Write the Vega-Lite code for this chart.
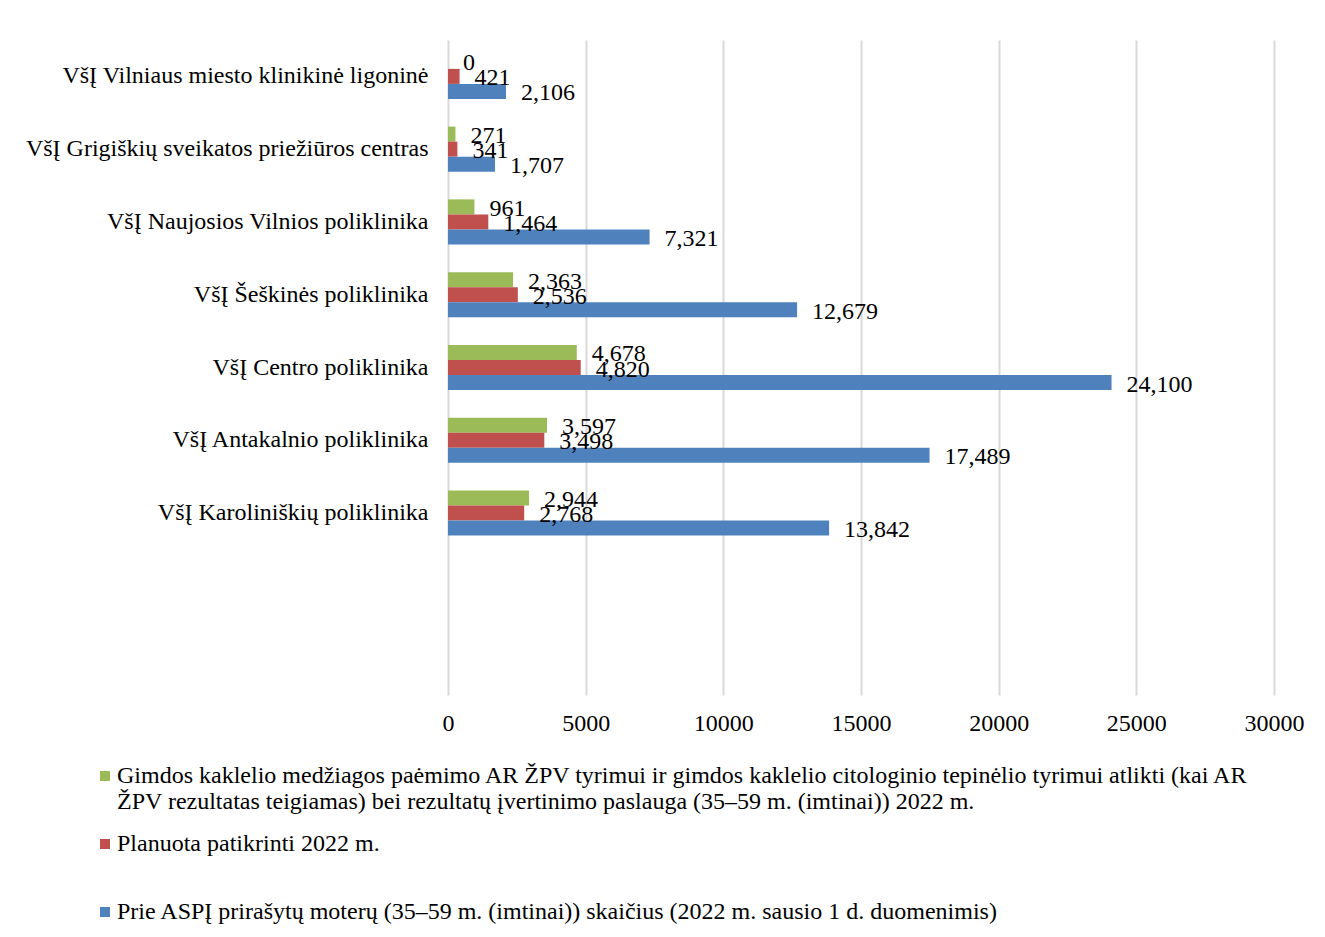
{
  "$schema": "https://vega.github.io/schema/vega-lite/v6.json",
  "autosize": {"type": "none"},
  "padding": {"left": 448, "top": 40, "right": 51, "bottom": 242},
  "width": 826,
  "height": 655,
  "background": "white",
  "config": {
    "font": "Liberation Serif",
    "view": {"stroke": null}
  },
  "data": {
    "values": [
      {"org": "VšĮ Vilniaus miesto klinikinė ligoninė", "series": "Gimdos kaklelio medžiagos paėmimo AR ŽPV tyrimui ir gimdos kaklelio citologinio tepinėlio tyrimui atlikti (kai AR ŽPV rezultatas teigiamas) bei rezultatų įvertinimo paslauga (35–59 m. (imtinai)) 2022 m.", "ord": 1, "value": 0},
      {"org": "VšĮ Vilniaus miesto klinikinė ligoninė", "series": "Planuota patikrinti 2022 m.", "ord": 2, "value": 421},
      {"org": "VšĮ Vilniaus miesto klinikinė ligoninė", "series": "Prie ASPĮ prirašytų moterų (35–59 m. (imtinai)) skaičius (2022 m. sausio 1 d. duomenimis)", "ord": 3, "value": 2106},
      {"org": "VšĮ Grigiškių sveikatos priežiūros centras", "series": "Gimdos kaklelio medžiagos paėmimo AR ŽPV tyrimui ir gimdos kaklelio citologinio tepinėlio tyrimui atlikti (kai AR ŽPV rezultatas teigiamas) bei rezultatų įvertinimo paslauga (35–59 m. (imtinai)) 2022 m.", "ord": 1, "value": 271},
      {"org": "VšĮ Grigiškių sveikatos priežiūros centras", "series": "Planuota patikrinti 2022 m.", "ord": 2, "value": 341},
      {"org": "VšĮ Grigiškių sveikatos priežiūros centras", "series": "Prie ASPĮ prirašytų moterų (35–59 m. (imtinai)) skaičius (2022 m. sausio 1 d. duomenimis)", "ord": 3, "value": 1707},
      {"org": "VšĮ Naujosios Vilnios poliklinika", "series": "Gimdos kaklelio medžiagos paėmimo AR ŽPV tyrimui ir gimdos kaklelio citologinio tepinėlio tyrimui atlikti (kai AR ŽPV rezultatas teigiamas) bei rezultatų įvertinimo paslauga (35–59 m. (imtinai)) 2022 m.", "ord": 1, "value": 961},
      {"org": "VšĮ Naujosios Vilnios poliklinika", "series": "Planuota patikrinti 2022 m.", "ord": 2, "value": 1464},
      {"org": "VšĮ Naujosios Vilnios poliklinika", "series": "Prie ASPĮ prirašytų moterų (35–59 m. (imtinai)) skaičius (2022 m. sausio 1 d. duomenimis)", "ord": 3, "value": 7321},
      {"org": "VšĮ Šeškinės poliklinika", "series": "Gimdos kaklelio medžiagos paėmimo AR ŽPV tyrimui ir gimdos kaklelio citologinio tepinėlio tyrimui atlikti (kai AR ŽPV rezultatas teigiamas) bei rezultatų įvertinimo paslauga (35–59 m. (imtinai)) 2022 m.", "ord": 1, "value": 2363},
      {"org": "VšĮ Šeškinės poliklinika", "series": "Planuota patikrinti 2022 m.", "ord": 2, "value": 2536},
      {"org": "VšĮ Šeškinės poliklinika", "series": "Prie ASPĮ prirašytų moterų (35–59 m. (imtinai)) skaičius (2022 m. sausio 1 d. duomenimis)", "ord": 3, "value": 12679},
      {"org": "VšĮ Centro poliklinika", "series": "Gimdos kaklelio medžiagos paėmimo AR ŽPV tyrimui ir gimdos kaklelio citologinio tepinėlio tyrimui atlikti (kai AR ŽPV rezultatas teigiamas) bei rezultatų įvertinimo paslauga (35–59 m. (imtinai)) 2022 m.", "ord": 1, "value": 4678},
      {"org": "VšĮ Centro poliklinika", "series": "Planuota patikrinti 2022 m.", "ord": 2, "value": 4820},
      {"org": "VšĮ Centro poliklinika", "series": "Prie ASPĮ prirašytų moterų (35–59 m. (imtinai)) skaičius (2022 m. sausio 1 d. duomenimis)", "ord": 3, "value": 24100},
      {"org": "VšĮ Antakalnio poliklinika", "series": "Gimdos kaklelio medžiagos paėmimo AR ŽPV tyrimui ir gimdos kaklelio citologinio tepinėlio tyrimui atlikti (kai AR ŽPV rezultatas teigiamas) bei rezultatų įvertinimo paslauga (35–59 m. (imtinai)) 2022 m.", "ord": 1, "value": 3597},
      {"org": "VšĮ Antakalnio poliklinika", "series": "Planuota patikrinti 2022 m.", "ord": 2, "value": 3498},
      {"org": "VšĮ Antakalnio poliklinika", "series": "Prie ASPĮ prirašytų moterų (35–59 m. (imtinai)) skaičius (2022 m. sausio 1 d. duomenimis)", "ord": 3, "value": 17489},
      {"org": "VšĮ Karoliniškių poliklinika", "series": "Gimdos kaklelio medžiagos paėmimo AR ŽPV tyrimui ir gimdos kaklelio citologinio tepinėlio tyrimui atlikti (kai AR ŽPV rezultatas teigiamas) bei rezultatų įvertinimo paslauga (35–59 m. (imtinai)) 2022 m.", "ord": 1, "value": 2944},
      {"org": "VšĮ Karoliniškių poliklinika", "series": "Planuota patikrinti 2022 m.", "ord": 2, "value": 2768},
      {"org": "VšĮ Karoliniškių poliklinika", "series": "Prie ASPĮ prirašytų moterų (35–59 m. (imtinai)) skaičius (2022 m. sausio 1 d. duomenimis)", "ord": 3, "value": 13842}
    ]
  },
  "encoding": {
    "y": {
      "field": "org",
      "type": "nominal",
      "scale": {
        "domain": ["VšĮ Vilniaus miesto klinikinė ligoninė", "VšĮ Grigiškių sveikatos priežiūros centras", "VšĮ Naujosios Vilnios poliklinika", "VšĮ Šeškinės poliklinika", "VšĮ Centro poliklinika", "VšĮ Antakalnio poliklinika", "VšĮ Karoliniškių poliklinika", " ", "  "],
        "paddingInner": 0.38,
        "paddingOuter": 0.19
      },
      "axis": {
        "title": null,
        "ticks": false,
        "domain": false,
        "labelFontSize": 24,
        "labelColor": "#000000",
        "labelPadding": 20,
        "labelLimit": 500
      }
    },
    "yOffset": {
      "field": "ord",
      "type": "ordinal",
      "scale": {"paddingInner": 0, "paddingOuter": 0}
    },
    "x": {
      "field": "value",
      "type": "quantitative",
      "scale": {"domain": [0, 30000], "nice": false},
      "axis": {
        "title": null,
        "values": [0, 5000, 10000, 15000, 20000, 25000, 30000],
        "format": "d",
        "ticks": false,
        "domain": false,
        "grid": true,
        "gridColor": "#d9d9d9",
        "gridWidth": 2,
        "labelFontSize": 24,
        "labelColor": "#000000",
        "labelPadding": 16,
        "labelFlush": false
      }
    }
  },
  "layer": [
    {
      "mark": {"type": "bar"},
      "encoding": {
        "color": {
          "field": "series",
          "type": "nominal",
          "sort": ["Gimdos kaklelio medžiagos paėmimo AR ŽPV tyrimui ir gimdos kaklelio citologinio tepinėlio tyrimui atlikti (kai AR ŽPV rezultatas teigiamas) bei rezultatų įvertinimo paslauga (35–59 m. (imtinai)) 2022 m.", "Planuota patikrinti 2022 m.", "Prie ASPĮ prirašytų moterų (35–59 m. (imtinai)) skaičius (2022 m. sausio 1 d. duomenimis)"],
          "scale": {
            "domain": ["Gimdos kaklelio medžiagos paėmimo AR ŽPV tyrimui ir gimdos kaklelio citologinio tepinėlio tyrimui atlikti (kai AR ŽPV rezultatas teigiamas) bei rezultatų įvertinimo paslauga (35–59 m. (imtinai)) 2022 m.", "Planuota patikrinti 2022 m.", "Prie ASPĮ prirašytų moterų (35–59 m. (imtinai)) skaičius (2022 m. sausio 1 d. duomenimis)"],
            "range": ["#9BBB59", "#C0504D", "#4F81BD"]
          },
          "legend": {
            "title": null,
            "orient": "none",
            "legendX": -355,
            "legendY": 724,
            "padding": 0,
            "direction": "vertical",
            "symbolType": "square",
            "symbolSize": 100,
            "symbolStrokeWidth": 0,
            "labelFontSize": 24,
            "labelColor": "#000000",
            "labelLimit": 0,
            "labelOffset": 0,
            "rowPadding": 18,
            "labelExpr": "indexof(datum.label, 'Gimdos') == 0 ? ['Gimdos kaklelio medžiagos paėmimo AR ŽPV tyrimui ir gimdos kaklelio citologinio tepinėlio tyrimui atlikti (kai AR', 'ŽPV rezultatas teigiamas) bei rezultatų įvertinimo paslauga (35–59 m. (imtinai)) 2022 m.'] : indexof(datum.label, 'Planuota') == 0 ? [datum.label, ''] : datum.label"
          }
        }
      }
    },
    {
      "mark": {"type": "text", "align": "left", "baseline": "middle", "dx": 15, "dy": 2, "fontSize": 24, "color": "#000000"},
      "encoding": {
        "text": {"field": "value", "type": "quantitative", "format": ",d"}
      }
    }
  ]
}
